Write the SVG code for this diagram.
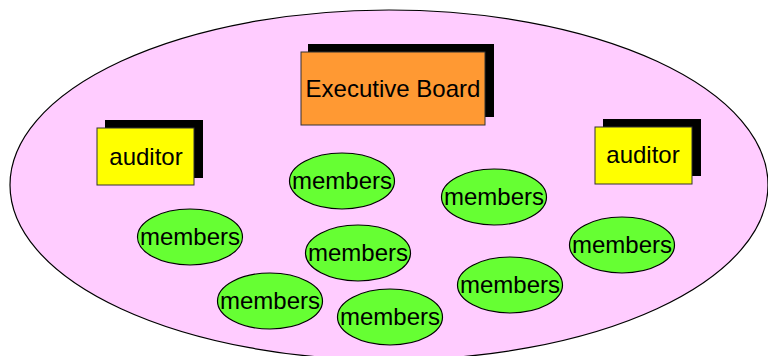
<svg xmlns="http://www.w3.org/2000/svg" width="768" height="356" viewBox="0 0 768 356">
<style>
.bg{fill:#FFCCFF;stroke:#000;stroke-width:1.2}
.shadow{fill:#000}
.exec{fill:#FF9933;stroke:#333;stroke-width:1}
.aud{fill:#FFFF00;stroke:#333;stroke-width:1}
.mem{fill:#66FF33;stroke:#000;stroke-width:1.2}
text{font-family:"Liberation Sans",Arial,sans-serif;fill:#000;text-anchor:middle}
.t24{font-size:24px}
.tm{font-size:24px}
</style>
<rect width="768" height="356" fill="#fff"/>
<ellipse class="bg" cx="389" cy="185" rx="379" ry="175"/>
<g id="executive-board">
<rect class="shadow" x="308" y="44" width="186" height="73"/>
<rect class="exec" x="301" y="52" width="184" height="73"/>
<text class="t24" x="393" y="97">Executive Board</text>
</g>
<g id="auditor-left">
<rect class="shadow" x="105" y="120" width="98" height="58"/>
<rect class="aud" x="97" y="128" width="97" height="57"/>
<text class="t24" x="146" y="165">auditor</text>
</g>
<g id="auditor-right">
<rect class="shadow" x="603" y="119" width="98" height="57"/>
<rect class="aud" x="595" y="127" width="97" height="57"/>
<text class="t24" x="643" y="163">auditor</text>
</g>
<g id="members-1"><ellipse class="mem" cx="342" cy="181" rx="52.5" ry="28"/><text class="tm" x="342" y="189">members</text></g>
<g id="members-2"><ellipse class="mem" cx="494" cy="197" rx="52.5" ry="28"/><text class="tm" x="494" y="205">members</text></g>
<g id="members-3"><ellipse class="mem" cx="190" cy="237" rx="52.5" ry="28"/><text class="tm" x="190" y="245">members</text></g>
<g id="members-4"><ellipse class="mem" cx="358" cy="253" rx="52.5" ry="28"/><text class="tm" x="358" y="261">members</text></g>
<g id="members-5"><ellipse class="mem" cx="622" cy="245" rx="52.5" ry="28"/><text class="tm" x="622" y="253">members</text></g>
<g id="members-6"><ellipse class="mem" cx="270" cy="301" rx="52.5" ry="28"/><text class="tm" x="270" y="309">members</text></g>
<g id="members-7"><ellipse class="mem" cx="390" cy="317" rx="52.5" ry="28"/><text class="tm" x="390" y="325">members</text></g>
<g id="members-8"><ellipse class="mem" cx="510" cy="285" rx="52.5" ry="28"/><text class="tm" x="510" y="293">members</text></g>
<g id="connectors"></g>
</svg>
